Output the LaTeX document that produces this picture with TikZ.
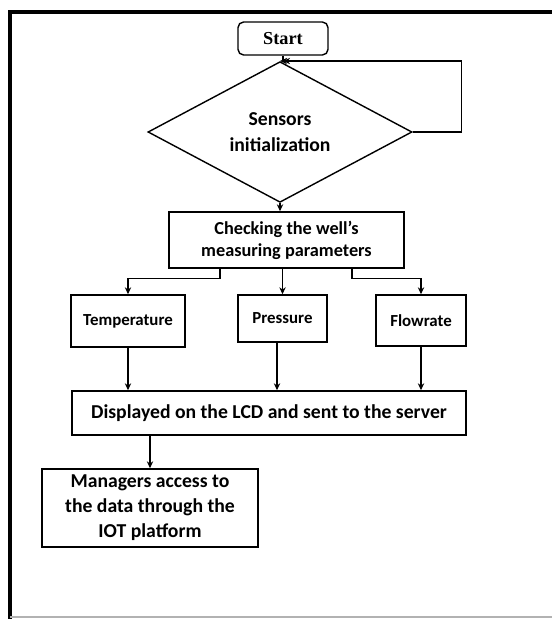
\documentclass[tikz,border=0pt]{standalone}
\usepackage{fontspec}
\setmainfont{Carlito}
\newfontfamily\startfont{Liberation Serif}
\usetikzlibrary{positioning, arrows.meta, shapes.geometric}

\tikzset{
  box/.style={draw,rectangle,line width=1pt,inner sep=0pt,align=center,font=\bfseries},
  flow/.style={->,line width=1pt},
}

\begin{document}
\begin{tikzpicture}[x=0.025cm,y=-0.025cm,>={Stealth[length=5pt,width=4.5pt]}]
  \useasboundingbox (0,0) rectangle (552,619);
  % frame
  \draw[line width=2.2pt](8,12)--(552,12);
  \draw[line width=2.2pt](10,11)--(10,619);
  \draw[gray!60,line width=1pt](10,617)--(552,617);
  % start and check of the sensors
  \node[box,rounded corners=4pt,minimum width=2.25cm,minimum height=0.825cm,
        font=\startfont\bfseries\fontsize{13}{15}\selectfont] (start) at (283,38.5){Start};
  \node[box,diamond,minimum width=6.6cm,minimum height=2.6cm,
        font=\bfseries\fontsize{14}{19}\selectfont] (init) at (280,132){Sensors\\initialization};
  \coordinate (join) at (283,61);
  \draw[line width=1pt](start.south)--(join);
  \draw[flow](join)--(init.north);
  \draw[flow](init.east)--++(49,0)|-(join);
  % measuring parameters
  \node[box,minimum width=5.875cm,minimum height=1.4cm,
        font=\bfseries\fontsize{13}{15.5}\selectfont] (check) at (286.5,240){Checking the well's\\measuring parameters};
  \draw[flow](init.south)--(init.south|-check.north);
  \node[box,minimum width=2.85cm,minimum height=1.3cm,
        font=\bfseries\fontsize{12}{14}\selectfont] (temp) at (128,321){Temperature};
  \node[box,minimum width=2.225cm,minimum height=1.175cm,
        font=\bfseries\fontsize{12}{14}\selectfont] (press) at (282.5,318.5){Pressure};
  \node[box,minimum width=2.25cm,minimum height=1.275cm,
        font=\bfseries\fontsize{12}{14}\selectfont] (flowr) at (421,320.5){Flowrate};
  \draw[flow](check.south-|220,0)|-++(0,10)-|(temp.north);
  \draw[flow](check.south-|press.north)--(press.north);
  \draw[flow](check.south-|352,0)|-++(0,10)-|(flowr.north);
  % display and platform
  \node[box,minimum width=9.85cm,minimum height=1.1cm,
        font=\bfseries\fontsize{14}{17}\selectfont] (disp) at (269,413){Displayed on the LCD and sent to the server};
  \draw[flow](temp.south)--(temp.south|-disp.north);
  \draw[flow](press.south-|277,0)--(disp.north-|277,0);
  \draw[flow](flowr.south)--(flowr.south|-disp.north);
  \node[box,minimum width=5.4cm,minimum height=1.95cm,
        font=\bfseries\fontsize{14}{17.8}\selectfont] (mgr) at (150,508){Managers access to\\the data through the\\IOT platform};
  \draw[flow](mgr.north|-disp.south)--(mgr.north);
\end{tikzpicture}
\end{document}
